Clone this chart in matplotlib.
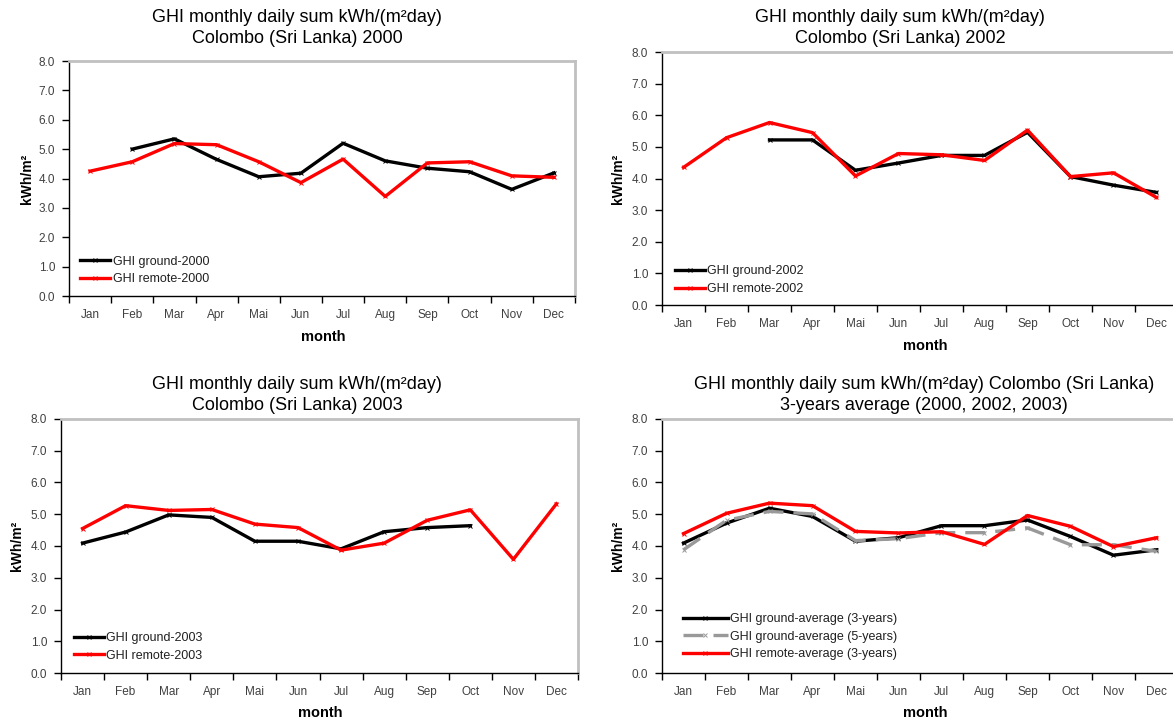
import numpy as np
import matplotlib
matplotlib.use("Agg")
import matplotlib.pyplot as plt
from matplotlib.ticker import FixedLocator

plt.rcParams["font.family"] = ["Liberation Sans", "DejaVu Sans"]

months = ["Jan", "Feb", "Mar", "Apr", "Mai", "Jun", "Jul", "Aug", "Sep", "Oct", "Nov", "Dec"]
nan = np.nan

# GHI monthly daily sums, kWh/(m²day)
ground_2000 = [nan, 5.00, 5.35, 4.65, 4.06, 4.18, 5.20, 4.60, 4.35, 4.23, 3.63, 4.19]
remote_2000 = [4.25, 4.57, 5.19, 5.15, 4.57, 3.86, 4.66, 3.39, 4.53, 4.57, 4.09, 4.04]

ground_2002 = [nan, nan, 5.22, 5.22, 4.26, 4.49, 4.73, 4.73, 5.46, 4.06, 3.79, 3.56]
remote_2002 = [4.35, 5.29, 5.77, 5.45, 4.08, 4.79, 4.75, 4.57, 5.53, 4.06, 4.18, 3.40]

ground_2003 = [4.09, 4.44, 4.98, 4.90, 4.15, 4.15, 3.91, 4.45, 4.58, 4.64, nan, nan]
remote_2003 = [4.55, 5.27, 5.12, 5.15, 4.69, 4.58, 3.87, 4.09, 4.81, 5.14, 3.58, 5.33]

ground_avg3 = [4.09, 4.72, 5.19, 4.93, 4.15, 4.26, 4.64, 4.64, 4.82, 4.30, 3.71, 3.88]
ground_avg5 = [3.88, 4.81, 5.09, 5.01, 4.17, 4.23, 4.42, 4.42, 4.57, 4.04, 4.04, 3.83]
remote_avg3 = [4.39, 5.03, 5.35, 5.27, 4.46, 4.41, 4.45, 4.05, 4.96, 4.62, 3.98, 4.26]

W, H = 1173, 722
fig = plt.figure(figsize=(W / 100, H / 100), dpi=100)
fig.patch.set_facecolor("white")

tick_color = "#404040"
border_color = "#c0c0c0"


def px_axes(left, top, right, bottom):
    # axes box given in pixel coordinates (origin top-left)
    return fig.add_axes([left / W, 1 - bottom / H, (right - left) / W, (bottom - top) / H])


def setup(ax, ylab_x, month_x, month_y):
    x = np.arange(12)
    ax.set_xlim(-0.5, 11.5)
    ax.set_ylim(0, 8)
    ax.set_yticks(np.arange(0, 8.1, 1.0))
    ax.set_yticklabels([f"{v:.1f}" for v in np.arange(0, 8.1, 1.0)])
    ax.xaxis.set_major_locator(FixedLocator(np.arange(-0.5, 12, 1.0)))
    ax.xaxis.set_major_formatter(plt.NullFormatter())
    ax.xaxis.set_minor_locator(FixedLocator(x))
    ax.set_xticklabels(months, minor=True)
    ax.tick_params(axis="x", which="major", direction="out", length=5, width=1, color="black")
    ax.tick_params(axis="x", which="minor", length=0, pad=16, labelsize=8.5, labelcolor=tick_color)
    # baseline alignment keeps Apr/Aug/Sep level with the other month names
    for lab in ax.get_xticklabels(minor=True):
        lab.set_verticalalignment("baseline")
    ax.tick_params(axis="y", direction="out", length=5, width=1, color="black",
                   labelsize=8.5, labelcolor=tick_color, pad=5)
    for s in ("left", "bottom"):
        ax.spines[s].set_color("black")
        ax.spines[s].set_linewidth(1)
    for s in ("top", "right"):
        ax.spines[s].set_color(border_color)
        ax.spines[s].set_linewidth(2)
    pos = ax.get_position()
    fig.text(ylab_x / W, pos.y0 + pos.height / 2, "kWh/m²", rotation=90, ha="center",
             va="center", fontsize=10, fontweight="bold")
    fig.text(month_x / W, 1 - month_y / H, "month", ha="center", va="center",
             fontsize=10.5, fontweight="bold")
    return x


def draw(ax, x, series, legend_anchor, handlelength):
    for vals, color, ls, label in series:
        ax.plot(x, vals, color=color, linestyle=ls, linewidth=2.4, marker="x",
                markersize=3.5, markeredgewidth=0.7, label=label)
    ax.legend(loc="lower left", bbox_to_anchor=legend_anchor, frameon=False,
              fontsize=9, handlelength=handlelength, handletextpad=0.2,
              labelspacing=0.45, borderaxespad=0, borderpad=0, labelcolor="#202020")


def title(cx, cy, lines):
    fig.text(cx / W, 1 - cy / H, lines, ha="center", va="center", fontsize=13,
             linespacing=1.3)


# 2000
ax1 = px_axes(69, 61, 575, 296)
x = setup(ax1, 27, 323, 337)
draw(ax1, x, [(ground_2000, "black", "-", "GHI ground-2000"),
              (remote_2000, "red", "-", "GHI remote-2000")], (0.022, 0.045), 2.4)
title(297, 28, "GHI monthly daily sum kWh/(m²day)\nColombo (Sri Lanka) 2000")

# 2002
ax2 = px_axes(662, 52, 1178, 305)
x = setup(ax2, 618, 925, 346)
draw(ax2, x, [(ground_2002, "black", "-", "GHI ground-2002"),
              (remote_2002, "red", "-", "GHI remote-2002")], (0.025, 0.04), 2.4)
title(900, 28, "GHI monthly daily sum kWh/(m²day)\nColombo (Sri Lanka) 2002")

# 2003
ax3 = px_axes(61, 419, 578, 673)
x = setup(ax3, 17, 320, 713)
draw(ax3, x, [(ground_2003, "black", "-", "GHI ground-2003"),
              (remote_2003, "red", "-", "GHI remote-2003")], (0.025, 0.045), 2.4)
title(297, 395, "GHI monthly daily sum kWh/(m²day)\nColombo (Sri Lanka) 2003")

# 3-years average
ax4 = px_axes(662, 419, 1178, 673)
x = setup(ax4, 618, 925, 713)
draw(ax4, x, [(ground_avg3, "black", "-", "GHI ground-average (3-years)"),
              (ground_avg5, "#999999", (0, (6, 3)), "GHI ground-average (5-years)"),
              (remote_avg3, "red", "-", "GHI remote-average (3-years)")], (0.04, 0.05), 3.6)
title(924, 395, "GHI monthly daily sum kWh/(m²day) Colombo (Sri Lanka)\n3-years average (2000, 2002, 2003)")

fig.savefig("out.png", dpi=100)
